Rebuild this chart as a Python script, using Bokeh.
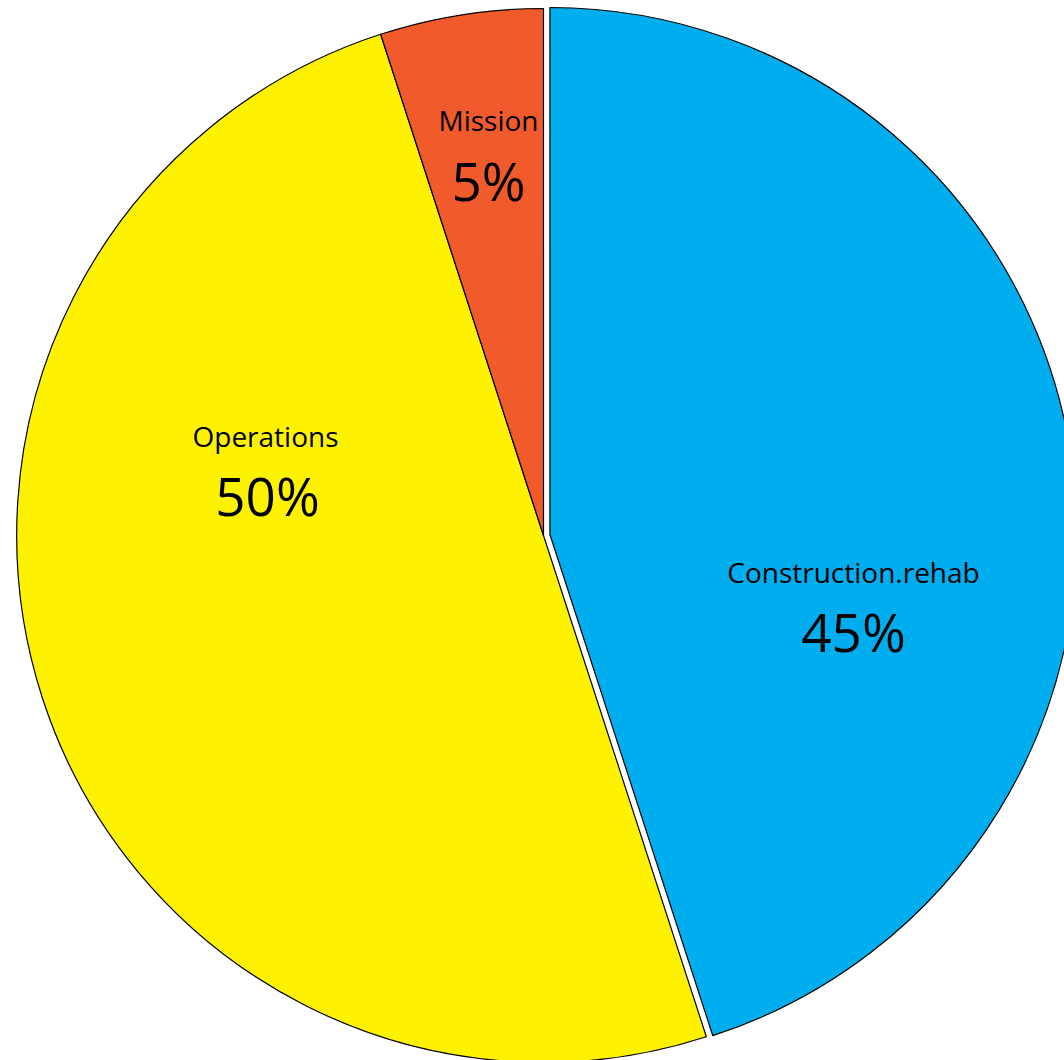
import math
from bokeh.plotting import figure
from bokeh.models import ColumnDataSource, Range1d
from bokeh.core.properties import value
from bokeh.embed import file_html
from bokeh.resources import INLINE

# ---- data ----
categories = ["Construction.rehab", "Operations", "Mission"]
shares = [45, 50, 5]
colors = ["#00AEEF", "#FFF200", "#F15A2B"]
exploded = [True, False, False]

# ---- layout (pixel-like data units) ----
W, H = 1064, 1060
cx, cy, R = 543, 525, 527
explode_px = 6.5
label_pos = [(853, 489), (265, 625), (488, 941)]
pct_pos = [(853, 429), (267, 565.5), (488, 880)]

total = float(sum(shares))
starts, ends, xs, ys = [], [], [], []
a = math.pi / 2
for s, ex in zip(shares, exploded):
    span = 2 * math.pi * s / total
    start, end = a - span, a  # clockwise from 12 o'clock
    mid = (start + end) / 2
    off = explode_px if ex else 0.0
    xs.append(cx + off * math.cos(mid))
    ys.append(cy + off * math.sin(mid))
    starts.append(start)
    ends.append(end)
    a = start

src = ColumnDataSource(dict(x=xs, y=ys, start=starts, end=ends, color=colors))

p = figure(width=W, height=H, output_backend="svg", toolbar_location=None,
           x_range=Range1d(0, W), y_range=Range1d(0, H), min_border=0)
p.axis.visible = False
p.grid.visible = False
p.outline_line_color = None
p.background_fill_color = "white"

p.wedge(x="x", y="y", radius=R, start_angle="start", end_angle="end",
        fill_color="color", line_color="black", line_width=1.2, source=src)

lsrc = ColumnDataSource(dict(x=[q[0] for q in label_pos], y=[q[1] for q in label_pos], t=categories))
psrc = ColumnDataSource(dict(x=[q[0] for q in pct_pos], y=[q[1] for q in pct_pos],
                             t=["%d%%" % s for s in shares]))

p.text(x="x", y="y", text="t", source=lsrc, text_font=value("Open Sans"),
       text_font_size="28px", text_align="center", text_baseline="middle", text_color="black")
p.text(x="x", y="y", text="t", source=psrc, text_font=value("Open Sans"),
       text_font_size="53px", text_align="center", text_baseline="middle", text_color="black")

open("out.html", "w").write(file_html(p, INLINE))
